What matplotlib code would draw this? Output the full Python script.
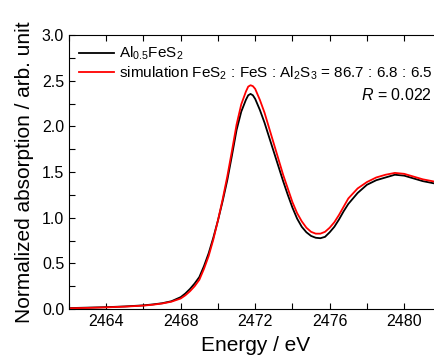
import matplotlib
matplotlib.use("Agg")
import matplotlib.pyplot as plt
from matplotlib.ticker import MultipleLocator

plt.rcParams['font.family'] = ['Liberation Sans', 'DejaVu Sans']
plt.rcParams['mathtext.fontset'] = 'custom'
plt.rcParams['mathtext.rm'] = 'Liberation Sans'
plt.rcParams['mathtext.it'] = 'Liberation Sans:italic'

# energy grid (eV)
energy = [2462.0, 2463.0, 2464.0, 2465.0, 2466.0, 2466.5, 2467.0, 2467.5,
          2468.0, 2468.25, 2468.5, 2468.75, 2469.0, 2469.25, 2469.5, 2469.75,
          2470.0, 2470.25, 2470.5, 2470.75, 2471.0, 2471.25, 2471.5, 2471.625,
          2471.75, 2471.875,
          2472.0, 2472.25, 2472.5, 2472.75, 2473.0, 2473.25, 2473.5, 2473.75,
          2474.0, 2474.25, 2474.5, 2474.75, 2475.0, 2475.25, 2475.5, 2475.75,
          2476.0, 2476.25, 2476.5, 2476.75, 2477.0, 2477.5, 2478.0, 2478.5,
          2479.0, 2479.5, 2480.0, 2480.5, 2481.0, 2481.5, 2482.0]

# measured Al0.5FeS2
measured = [0.010, 0.015, 0.020, 0.028, 0.040, 0.050, 0.063, 0.085,
            0.13, 0.17, 0.22, 0.28, 0.35, 0.47, 0.61, 0.78,
            0.97, 1.18, 1.41, 1.68, 1.96, 2.16, 2.29, 2.34,
            2.355, 2.34,
            2.30, 2.18, 2.04, 1.88, 1.72, 1.56, 1.40, 1.25,
            1.11, 0.99, 0.90, 0.84, 0.80, 0.78, 0.775, 0.79,
            0.84, 0.90, 0.98, 1.07, 1.15, 1.27, 1.36, 1.41,
            1.44, 1.47, 1.46, 1.43, 1.40, 1.38, 1.36]

# linear combination fit
simulation = [0.008, 0.012, 0.018, 0.026, 0.037, 0.047, 0.060, 0.080,
              0.115, 0.15, 0.195, 0.25, 0.32, 0.44, 0.58, 0.76,
              0.97, 1.20, 1.45, 1.73, 2.02, 2.24, 2.38, 2.435,
              2.45, 2.44,
              2.41, 2.29, 2.15, 1.98, 1.81, 1.64, 1.47, 1.32,
              1.17, 1.05, 0.96, 0.89, 0.845, 0.825, 0.825, 0.845,
              0.89, 0.95, 1.03, 1.12, 1.21, 1.32, 1.39, 1.44,
              1.47, 1.49, 1.48, 1.45, 1.42, 1.40, 1.38]

fig = plt.figure(figsize=(4.35, 3.56), dpi=100)
ax = fig.add_axes([69 / 435, 47 / 356, 372.4 / 435, 274 / 356])

ax.plot(energy, measured, color='black', lw=1.3, label=r'Al$_{0.5}$FeS$_2$')
ax.plot(energy, simulation, color='red', lw=1.3,
        label=r'simulation FeS$_2$ : FeS : Al$_2$S$_3$ = 86.7 : 6.8 : 6.5')

ax.set_xlim(2462, 2482)
ax.set_ylim(0, 3.0)
ax.xaxis.set_major_locator(MultipleLocator(4))
ax.xaxis.set_minor_locator(MultipleLocator(2))
ax.yaxis.set_major_locator(MultipleLocator(0.5))
ax.yaxis.set_minor_locator(MultipleLocator(0.25))
ax.tick_params(which='both', direction='in', top=True, right=True,
               labelsize=11.5, width=0.8, length=4)

ax.set_xlabel('Energy / eV', fontsize=15, labelpad=5)
ax.set_ylabel('Normalized absorption / arb. unit', fontsize=15, labelpad=6)

ax.legend(loc='upper left', bbox_to_anchor=(0.0, 1.0), frameon=False,
          fontsize=11, handlelength=2.3, handletextpad=0.3,
          borderaxespad=0.25, labelspacing=0.15)
ax.text(432 / 435, 1 - 95 / 356, r'$R$ = 0.022', transform=fig.transFigure,
        ha='right', va='center', fontsize=11.5)

fig.savefig('out.png', dpi=100)
